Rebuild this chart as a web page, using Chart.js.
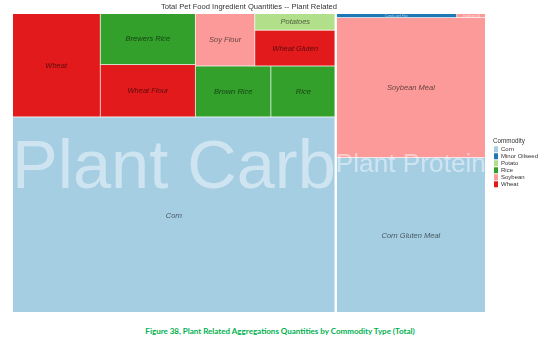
<!DOCTYPE html>
<html>
<head>
<meta charset="utf-8">
<title>Total Pet Food Ingredient Quantities -- Plant Related</title>
<script src="https://cdn.jsdelivr.net/npm/chart.js@4.4.1/dist/chart.umd.min.js"></script>
<style>
  body { margin: 0; background: #fff; }
  #wrap { position: relative; width: 554px; height: 347px; }
  #caption {
    position: absolute; left: 6px; top: 326px; width: 548px;
    text-align: center; font: bold 8px Lato, sans-serif; color: #00b050;
  }
</style>
</head>
<body>
<div id="wrap">
  <canvas id="treemap" width="554" height="320"></canvas>
  <div id="caption">Figure 38, Plant Related Aggregations Quantities by Commodity Type (Total)</div>
</div>
<script>
// PLANT RELATED TREEMAP

const TITLE = "Total Pet Food Ingredient Quantities -- Plant Related";

const groups = ["Plant Carb", "Plant Protein"];
const commodities = ["Corn", "Minor Oilseed", "Potato", "Rice", "Soybean", "Wheat"];

const ingredients = [
  "Corn", "Wheat", "Wheat Flour", "Brewers Rice", "Brown Rice", "Rice",
  "Soy Flour", "Wheat Gluten", "Potatoes",
  "Corn Gluten Meal", "Soybean Meal", "Canola and Flax", "Soybean Oil"
];
const ingredientGroup = [
  "Plant Carb", "Plant Carb", "Plant Carb", "Plant Carb", "Plant Carb", "Plant Carb",
  "Plant Carb", "Plant Carb", "Plant Carb",
  "Plant Protein", "Plant Protein", "Plant Protein", "Plant Protein"
];
const ingredientCommodity = [
  "Corn", "Wheat", "Wheat", "Rice", "Rice", "Rice",
  "Soybean", "Wheat", "Potato",
  "Corn", "Soybean", "Minor Oilseed", "Soybean"
];
const quantities = [
  62900, 9090, 4930, 4850, 3810, 3270,
  3110, 2870, 1370,
  23140, 20830, 540, 130
];

// colour per commodity (same order as commodities)
const palette = ["#a6cee3", "#1f78b4", "#b2df8a", "#33a02c", "#fb9a99", "#e31a1c"];

// layout is worked out in a roughly square space, then stretched onto the plot
const LAYOUT_ASPECT = 1.02;

Chart.defaults.font.family = "'Liberation Sans', Arial, sans-serif";

function worstRatio(row, side, k) {
  const sum = row.reduce((s, n) => s + n.value, 0) * k;
  const thick = sum / side;
  let worst = 0;
  row.forEach((n) => {
    const len = (n.value * k) / thick;
    worst = Math.max(worst, thick / len, len / thick);
  });
  return worst;
}

// squarified layout, origin bottom-left (y up)
function squarify(nodes, x0, y0, x1, y1) {
  const rects = [];
  let rest = nodes.slice().sort((a, b) => b.value - a.value);
  const total = rest.reduce((s, n) => s + n.value, 0);
  const k = ((x1 - x0) * (y1 - y0)) / total;

  while (rest.length) {
    const w = x1 - x0;
    const h = y1 - y0;
    const column = w >= h;
    const side = column ? h : w;
    let row = [rest[0]];
    let best = worstRatio(row, side, k);
    while (row.length < rest.length) {
      const cand = rest.slice(0, row.length + 1);
      const r = worstRatio(cand, side, k);
      if (r > best) break;
      row = cand;
      best = r;
    }
    const thick = (row.reduce((s, n) => s + n.value, 0) * k) / side;
    if (column) {
      let y = y0;
      row.forEach((n) => {
        const len = (n.value * k) / thick;
        rects.push({ node: n, x0: x0, x1: x0 + thick, y0: y, y1: y + len });
        y += len;
      });
      x0 += thick;
    } else {
      let x = x0;
      row.forEach((n) => {
        const len = (n.value * k) / thick;
        rects.push({ node: n, x0: x, x1: x + len, y0: y0, y1: y0 + thick });
        x += len;
      });
      y0 += thick;
    }
    rest = rest.slice(row.length);
  }
  return rects;
}

const groupNodes = groups.map((g) => {
  const children = ingredients
    .map((name, i) => ({
      name,
      value: quantities[i],
      color: palette[commodities.indexOf(ingredientCommodity[i])],
      group: ingredientGroup[i],
    }))
    .filter((c) => c.group === g);
  return { name: g, value: children.reduce((s, c) => s + c.value, 0), children };
});

const groupRects = squarify(groupNodes, 0, 0, LAYOUT_ASPECT, 1);
const cellRects = [];
groupRects.forEach((gr) => {
  squarify(gr.node.children, gr.x0, gr.y0, gr.x1, gr.y1).forEach((r) => cellRects.push(r));
});

const treemapPlugin = {
  id: "treemap",
  afterDatasetsDraw(chart) {
    const { ctx, chartArea, scales } = chart;
    const sx = scales.x;
    const sy = scales.y;
    const box = (r) => {
      const left = sx.getPixelForValue(r.x0);
      const right = sx.getPixelForValue(r.x1);
      const top = sy.getPixelForValue(r.y1);
      const bottom = sy.getPixelForValue(r.y0);
      return { left, top, w: right - left, h: bottom - top };
    };

    ctx.save();
    // cells
    cellRects.forEach((r) => {
      const b = box(r);
      ctx.fillStyle = r.node.color;
      ctx.fillRect(b.left, b.top, b.w, b.h);
      ctx.strokeStyle = "rgba(255,255,255,0.55)";
      ctx.lineWidth = 1;
      ctx.strokeRect(b.left, b.top, b.w, b.h);
    });
    // group borders
    groupRects.forEach((r) => {
      const b = box(r);
      ctx.strokeStyle = "#ffffff";
      ctx.lineWidth = 2;
      ctx.strokeRect(b.left, b.top, b.w, b.h);
    });

    // cell labels
    ctx.textAlign = "center";
    ctx.textBaseline = "middle";
    cellRects.forEach((r) => {
      const b = box(r);
      const size = Math.min(7.5, b.h * 0.7);
      if (size < 2.5) return;
      ctx.font = "italic " + size + "px 'Liberation Sans', Arial, sans-serif";
      ctx.fillStyle = size < 5 ? "rgba(255,255,255,0.6)" : "rgba(0,0,0,0.6)";
      ctx.fillText(r.node.name, b.left + b.w / 2, b.top + b.h / 2 + 0.5);
    });

    // big group names
    ctx.textBaseline = "alphabetic";
    groupRects.forEach((r) => {
      const b = box(r);
      ctx.font = "100px 'Liberation Sans', Arial, sans-serif";
      const per = ctx.measureText(r.node.name).width / 100;
      const size = b.w / per;
      ctx.font = size + "px 'Liberation Sans', Arial, sans-serif";
      ctx.fillStyle = "rgba(255,255,255,0.45)";
      ctx.fillText(r.node.name, b.left + b.w / 2, b.top + b.h / 2 + size * 0.716 / 2);
    });

    // title
    ctx.font = "7.6px 'Liberation Sans', Arial, sans-serif";
    ctx.fillStyle = "#333";
    ctx.textBaseline = "middle";
    ctx.fillText(TITLE, (chartArea.left + chartArea.right) / 2, 7);
    ctx.restore();
  },
};

new Chart(document.getElementById("treemap"), {
  type: "scatter",
  data: { datasets: [] },
  options: {
    responsive: false,
    animation: false,
    devicePixelRatio: 1,
    layout: { padding: { left: 12, top: 13, right: 6, bottom: 7 } },
    scales: {
      x: { type: "linear", min: 0, max: LAYOUT_ASPECT, display: false },
      y: {
        type: "linear",
        min: 0,
        max: 1,
        position: "right",
        grid: { display: false },
        border: { display: false },
        ticks: { display: false },
        afterFit: (axis) => {
          axis.width = 7;
        },
      },
    },
    plugins: {
      tooltip: { enabled: false },
      title: { display: false },
      legend: {
        position: "right",
        title: {
          display: true,
          text: "Commodity",
          position: "start",
          padding: 0,
          color: "#333",
          font: { size: 6.3 },
        },
        labels: {
          boxWidth: 4,
          boxHeight: 6,
          padding: 1,
          color: "#333",
          font: { size: 6 },
          generateLabels: () =>
            commodities.map((c, i) => ({
              text: c,
              fillStyle: palette[i],
              strokeStyle: palette[i],
              lineWidth: 0,
              hidden: false,
              datasetIndex: i,
            })),
        },
      },
    },
  },
  plugins: [treemapPlugin],
});
</script>
</body>
</html>
